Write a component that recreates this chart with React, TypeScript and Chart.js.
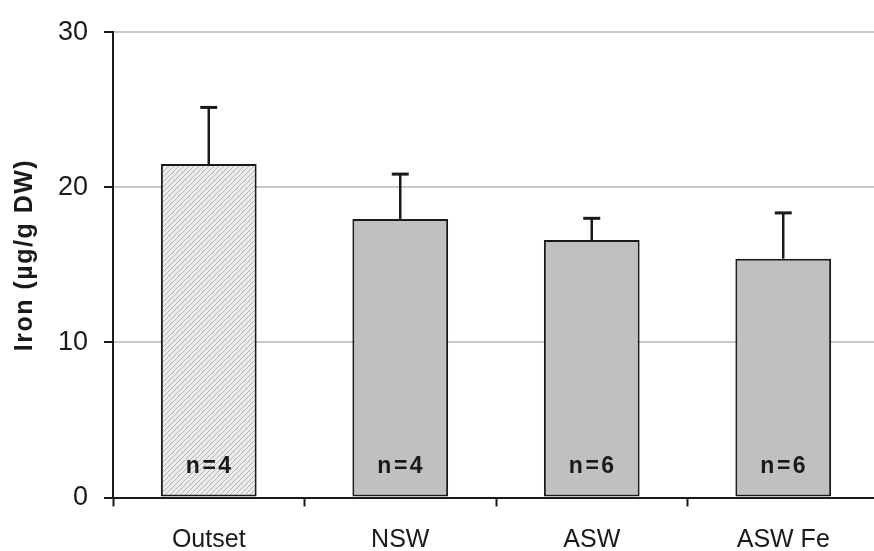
import React, { useEffect, useRef } from "react";
import { Chart, registerables } from "chart.js";

Chart.register(...registerables);

const categories = ["Outset", "NSW", "ASW", "ASW Fe"];
const meanValues = [21.5, 17.95, 16.6, 15.4];
const errorValues = [3.65, 2.9, 1.4, 2.95];
const sampleCounts = [4, 4, 6, 6];
const yTicks = [0, 10, 20, 30];
const yTitle = "Iron (µg/g DW)";

function makeHatch(): CanvasPattern | string {
  const c = document.createElement("canvas");
  c.width = 5;
  c.height = 5;
  const g = c.getContext("2d");
  if (!g) return "#e8e8e8";
  g.fillStyle = "#ececec";
  g.fillRect(0, 0, 5, 5);
  g.strokeStyle = "#b4b4b4";
  g.lineWidth = 1;
  g.beginPath();
  g.moveTo(-1, 6);
  g.lineTo(6, -1);
  g.moveTo(-1, 1);
  g.lineTo(1, -1);
  g.moveTo(4, 6);
  g.lineTo(6, 4);
  g.stroke();
  const p = g.createPattern(c, "repeat");
  return p || "#e8e8e8";
}

export default function App() {
  const ref = useRef<HTMLCanvasElement | null>(null);

  useEffect(() => {
    if (!ref.current) return;
    const hatch = makeHatch();
    const extras = {
      id: "extras",
      afterDatasetsDraw(chart: any) {
        const ctx = chart.ctx;
        const meta = chart.getDatasetMeta(0);
        const y = chart.scales.y;
        ctx.save();
        ctx.strokeStyle = "#1a1a1a";
        meta.data.forEach((bar: any, i: number) => {
          const x = bar.x;
          const top = y.getPixelForValue(meanValues[i]);
          const et = y.getPixelForValue(meanValues[i] + errorValues[i]);
          ctx.lineWidth = 2.5;
          ctx.beginPath();
          ctx.moveTo(x, top);
          ctx.lineTo(x, et);
          ctx.stroke();
          ctx.lineWidth = 3;
          ctx.beginPath();
          ctx.moveTo(x - 8.5, et);
          ctx.lineTo(x + 8.5, et);
          ctx.stroke();
          ctx.fillStyle = "#1a1a1a";
          ctx.font = "bold 23px 'Liberation Sans', Arial, sans-serif";
          (ctx as any).letterSpacing = "2.5px";
          ctx.textAlign = "center";
          ctx.textBaseline = "middle";
          ctx.fillText("n=" + sampleCounts[i], x + 1, y.bottom - 31);
        });
        ctx.restore();
      },
      afterDraw(chart: any) {
        const ctx = chart.ctx;
        ctx.save();
        ctx.translate(25, 255);
        ctx.rotate(-Math.PI / 2);
        ctx.fillStyle = "#1a1a1a";
        ctx.font = "bold 25px 'Liberation Sans', Arial, sans-serif";
        (ctx as any).letterSpacing = "1.5px";
        ctx.textAlign = "center";
        ctx.textBaseline = "middle";
        ctx.fillText(yTitle, 0, 0);
        ctx.restore();
      },
    };

    const chart = new Chart(ref.current, {
      type: "bar",
      data: {
        labels: categories,
        datasets: [
          {
            data: meanValues,
            backgroundColor: [hatch, "#c0c0c0", "#c0c0c0", "#c0c0c0"] as any,
            borderColor: "#1a1a1a",
            borderWidth: 2,
            borderSkipped: false,
            barPercentage: 0.5,
            categoryPercentage: 1,
          },
        ],
      },
      options: {
        animation: false,
        responsive: false,
        maintainAspectRatio: false,
        layout: { padding: { left: 0, right: 3, top: 25, bottom: 0 } },
        plugins: { legend: { display: false }, tooltip: { enabled: false } },
        scales: {
          x: {
            grid: {
              offset: true,
              drawOnChartArea: false,
              tickColor: "#1a1a1a",
              tickLength: 9,
              tickWidth: 2,
            },
            border: { color: "#1a1a1a", width: 2 },
            ticks: {
              color: "#1a1a1a",
              padding: 19,
              maxRotation: 0,
              font: { size: 25, family: "'Liberation Sans', Arial, sans-serif" },
            },
            afterFit(scale: any) {
              scale.height = 53.5;
            },
          },
          y: {
            min: 0,
            max: 30,
            afterBuildTicks(scale: any) {
              scale.ticks = yTicks.map((v) => ({ value: v }));
            },
            grid: {
              color: (c: any) => (c.tick && c.tick.value === 0 ? "rgba(0,0,0,0)" : "#c8c8c8"),
              lineWidth: 2,
              tickColor: "#1a1a1a",
              tickLength: 9,
              tickWidth: 2,
            },
            border: { color: "#1a1a1a", width: 2 },
            ticks: {
              color: "#1a1a1a",
              padding: 16,
              font: { size: 27, family: "'Liberation Sans', Arial, sans-serif" },
            },
            afterFit(scale: any) {
              scale.width = 113;
            },
          },
        },
      },
      plugins: [extras],
    });
    return () => chart.destroy();
  }, []);

  return (
    <div style={{ position: "fixed", left: 0, top: 0, width: 882, height: 551, background: "#fff" }}>
      <canvas ref={ref} width={882} height={551} style={{ display: "block" }} />
    </div>
  );
}
